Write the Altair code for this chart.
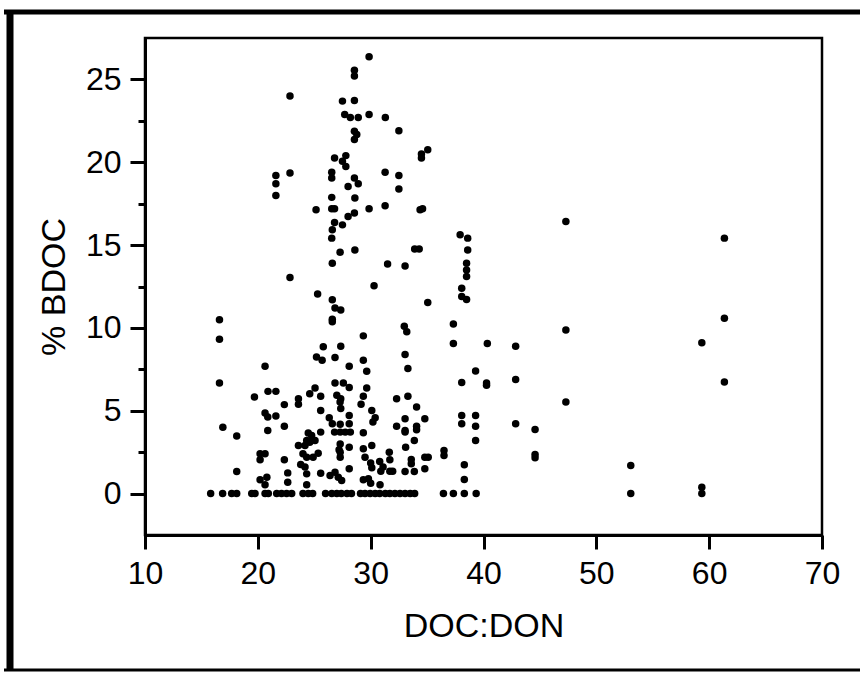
import altair as alt
import pandas as pd

# DOC:DON ratio (x) and % BDOC (y)
doc_don = [
    22.85, 21.6, 21.6, 21.6, 22.85, 22.85,
    16.6, 16.6, 16.6, 20.64, 19.7, 20.9, 21.6, 22.35,
    20.64, 20.88, 21.6, 22.35, 20.88, 16.9, 18.13,
    20.2, 20.64, 20.2, 22.35, 18.13, 20.2, 20.8, 20.64, 22.65, 22.65,
    15.82, 16.88, 17.68, 18.13, 19.46, 19.75, 20.64, 20.93, 21.67, 22.1, 22.55, 23.0,
    23.6, 23.6, 25.07, 24.6, 25.57, 25.57,
    24.47, 24.77, 24.33, 24.6, 25.07, 25.57,
    23.6, 24.18, 24.0, 24.33, 24.9, 25.35, 23.8, 24.18, 25.57, 26.4, 24.33, 24.33,
    25.3, 25.8, 25.2, 25.7,
    24.0, 24.47, 24.86, 26.0,
    29.86, 28.56, 28.56, 27.5, 28.56, 27.7, 28.2, 28.9, 29.86, 31.3, 32.5,
    28.56, 28.77, 28.56, 35.06, 34.5, 34.5, 26.8, 27.8, 27.5, 27.8,
    26.55, 26.55, 31.28, 32.5, 28.56, 28.9, 28.0, 32.5, 26.55, 28.6,
    25.16, 26.55, 26.8, 29.86, 31.28, 34.38, 34.6, 28.56, 28.0,
    26.8, 26.6, 27.5, 26.55, 37.93, 38.6, 38.6, 27.29, 28.6, 33.9, 34.3,
    26.6, 31.5, 33.05, 38.5,
    38.5, 38.5, 30.3, 26.6, 26.84, 27.35, 38.07, 38.07, 38.5, 35.06,
    26.6, 26.6, 29.35, 32.98, 33.2, 37.33, 37.33, 40.34, 27.35, 26.84,
    29.35, 33.05, 28.1, 29.65, 33.3, 39.3, 40.27, 40.27, 38.07,
    26.84, 27.58, 28.1, 29.65, 27.0, 27.35, 27.29, 29.35, 29.15, 32.3, 33.3,
    34.07, 27.35, 28.1, 30.1, 26.33, 30.4, 30.2, 33.05, 34.8, 38.07, 39.3,
    38.07, 39.3, 39.3, 26.6, 27.3, 28.1, 32.3, 34.07, 34.07, 33.05,
    26.8, 27.3, 27.75, 28.2, 29.35, 33.05, 33.87, 27.3, 27.2, 28.1,
    29.35, 30.1, 31.65, 33.1, 36.5, 36.5, 34.8, 35.1, 27.3, 27.3,
    29.5, 30.0, 30.8, 31.1, 31.7, 31.7, 33.6, 33.6, 28.1, 30.1, 30.9,
    31.95, 33.05, 33.87, 34.8, 38.3, 26.84, 27.13, 27.43, 29.35, 29.8, 30.0,
    30.83, 38.3,
    26.55, 27.0, 27.4, 27.9, 28.3, 29.1, 29.5, 29.95, 30.4, 30.8, 31.3,
    31.7, 32.15, 32.6, 33.05, 33.5, 33.9, 36.45, 37.33, 38.3, 39.35,
    47.3, 61.35, 61.35, 47.3, 42.85, 59.35, 42.85, 61.35, 47.3, 42.85,
    44.57, 44.57, 44.57, 53.05, 53.05, 59.35, 59.35,
]
bdoc_pct = [
    24.0, 19.2, 18.7, 18.0, 19.35, 13.05,
    10.5, 9.32, 6.68, 7.69, 5.83, 6.17, 6.17, 5.37,
    4.86, 4.62, 4.68, 4.06, 3.81, 4.0, 3.47,
    2.4, 2.4, 2.04, 2.04, 1.33, 0.83, 0.99, 0.54, 1.25, 0.68,
    0, 0, 0, 0, 0, 0, 0, 0, 0, 0, 0, 0,
    5.73, 5.39, 6.37, 6.03, 5.87, 5.02,
    3.65, 3.51, 3.21, 3.1, 3.21, 3.71,
    2.9, 2.9, 2.4, 2.2, 2.2, 2.44, 1.76, 1.6, 1.23, 1.09, 1.19, 0.54,
    12.05, 8.86, 8.25, 8.05,
    0, 0, 0, 0,
    26.37, 25.56, 25.2, 23.69, 23.73, 22.88, 22.7, 22.7, 22.88, 22.7, 21.9,
    21.87, 21.67, 21.37, 20.76, 20.5, 20.26, 20.26, 20.4, 20.06, 19.75,
    19.39, 19.05, 19.39, 19.2, 19.05, 18.7, 18.54, 18.38, 17.88, 17.84,
    17.13, 17.19, 17.19, 17.19, 17.37, 17.13, 17.2, 16.93, 16.73,
    16.36, 15.92, 16.22, 15.42, 15.62, 15.42, 14.7, 14.57, 14.7, 14.77, 14.77,
    13.9, 13.86, 13.74, 13.9,
    13.5, 13.1, 12.55, 11.7, 11.2, 11.08, 12.39, 11.89, 11.72, 11.54,
    10.53, 10.37, 9.52, 10.1, 9.77, 10.23, 9.06, 9.06, 8.9, 8.21,
    8.05, 8.4, 7.69, 7.39, 7.55, 7.4, 6.68, 6.54, 6.7,
    6.68, 6.68, 6.4, 6.37, 5.93, 5.73, 5.53, 5.87, 5.39, 5.73, 5.87,
    5.22, 5.13, 4.72, 5.02, 4.58, 4.58, 4.32, 4.52, 4.52, 4.72, 4.72,
    4.22, 4.06, 3.2, 4.22, 4.18, 4.22, 4.07, 4.07, 3.86, 3.81,
    3.71, 3.71, 3.71, 3.71, 3.67, 3.71, 3.21, 3.0, 2.64, 2.8,
    2.7, 2.9, 2.5, 2.8, 2.6, 2.3, 2.2, 2.2, 2.5, 2.2,
    2.2, 1.84, 1.94, 1.6, 2.04, 1.35, 2.06, 1.8, 1.5, 1.56, 1.35,
    1.35, 1.33, 1.33, 1.5, 1.74, 1.29, 0.99, 0.79, 0.83, 0.89, 0.62,
    0.54, 0.85,
    0, 0, 0, 0, 0, 0, 0, 0, 0, 0, 0,
    0, 0, 0, 0, 0, 0, 0, 0, 0, 0,
    16.42, 15.42, 10.58, 9.87, 8.9, 9.1, 6.88, 6.74, 5.53, 4.22,
    3.87, 2.36, 2.16, 1.69, 0, 0.38, 0,
]

x_ticks = [10, 20, 30, 40, 50, 60, 70]
y_ticks = [0, 2.5, 5, 7.5, 10, 12.5, 15, 17.5, 20, 22.5, 25]

df = pd.DataFrame({"ratio": doc_don, "bdoc": bdoc_pct})
one = pd.DataFrame({"k": [0]})

FONT = "Liberation Sans"

points = alt.Chart(df).mark_circle(size=56, color="black", opacity=1).encode(
    x=alt.X(
        "ratio:Q",
        scale=alt.Scale(domain=[10, 70], nice=False, zero=False),
        axis=alt.Axis(
            values=x_ticks, title="DOC:DON", grid=False,
            tickSize=14, tickWidth=3, tickColor="black",
            domainWidth=3, domainColor="black",
            labelFont=FONT, labelFontSize=32, labelColor="black", labelPadding=9,
            titleFont=FONT, titleFontSize=34, titleFontWeight="normal",
            titleColor="black", titlePadding=20, labelFlush=False,
        ),
    ),
    y=alt.Y(
        "bdoc:Q",
        scale=alt.Scale(domain=[-2.5, 27.5], nice=False, zero=False),
        axis=alt.Axis(
            values=y_ticks, title="% BDOC", grid=False,
            tickSize={"condition": {"test": "datum.value % 5 === 0", "value": 15}, "value": 7},
            tickWidth=3, tickColor="black",
            domainWidth=3, domainColor="black",
            labelExpr="datum.value % 5 === 0 ? format(datum.value, 'd') : ''",
            labelFont=FONT, labelFontSize=32, labelColor="black", labelPadding=9,
            labelOverlap=False, labelFlush=False,
            titleFont=FONT, titleFontSize=34, titleFontWeight="normal",
            titleColor="black", titlePadding=14,
        ),
    ),
)

# outer picture border (decorative frame around the whole figure)
border_top = alt.Chart(one).mark_rule(color="black", strokeWidth=5).encode(
    x=alt.value(-141), x2=alt.value(720), y=alt.value(-26)
)
border_left = alt.Chart(one).mark_rule(color="black", strokeWidth=7).encode(
    x=alt.value(-135), y=alt.value(-28), y2=alt.value(633)
)
border_bottom = alt.Chart(one).mark_rule(color="black", strokeWidth=3).encode(
    x=alt.value(-141), x2=alt.value(720), y=alt.value(632)
)

chart = alt.layer(points, border_top, border_left, border_bottom).properties(
    width=677,
    height=497,
    autosize=alt.AutoSizeParams(type="none"),
    padding={"left": 145, "top": 38, "right": 38, "bottom": 140},
    background="white",
).configure_view(stroke="black", strokeWidth=2.5)

chart.save("out.html", embed_options={"renderer": "svg", "actions": False})
